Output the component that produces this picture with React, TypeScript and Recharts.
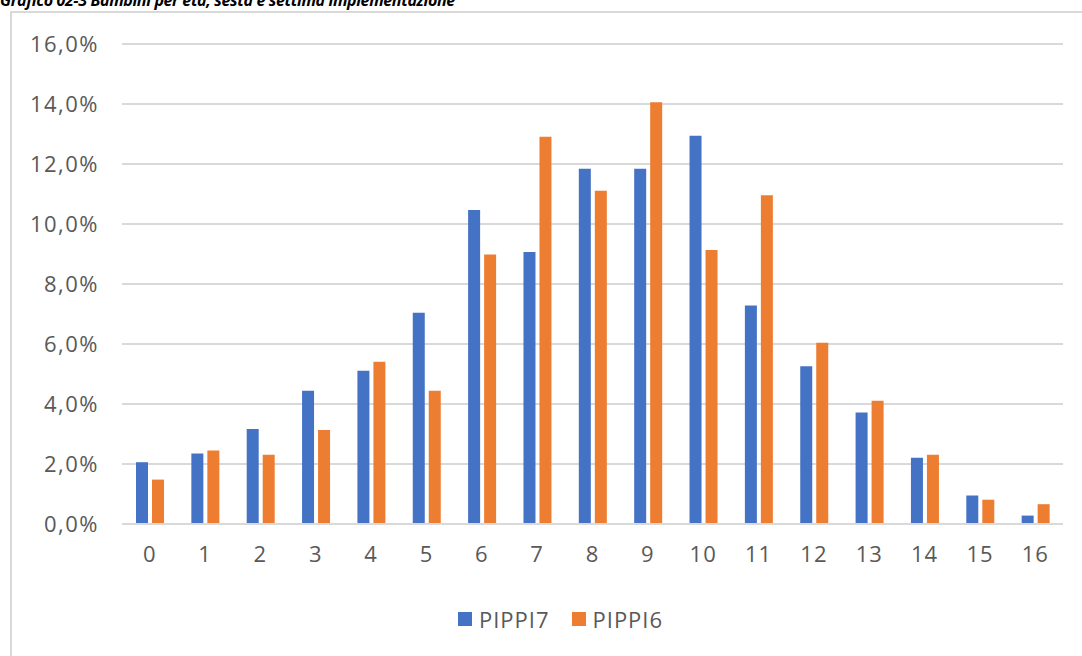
import { Bar, BarChart, CartesianGrid, Legend, XAxis, YAxis } from "recharts"

const ages = ["0", "1", "2", "3", "4", "5", "6", "7", "8", "9", "10", "11", "12", "13", "14", "15", "16"]

// share of children per age, in percent
const pippi7 = [2.06, 2.35, 3.17, 4.44, 5.11, 7.04, 10.47, 9.07, 11.84, 11.84, 12.94, 7.28, 5.26, 3.72, 2.21, 0.95, 0.28]
const pippi6 = [1.48, 2.45, 2.31, 3.13, 5.41, 4.44, 8.98, 12.91, 11.11, 14.06, 9.13, 10.96, 6.04, 4.11, 2.31, 0.81, 0.66]

const yTicks = [0, 2, 4, 6, 8, 10, 12, 14, 16]

const series = [
  { key: "PIPPI7", color: "#4472C4" },
  { key: "PIPPI6", color: "#ED7D31" },
]

const data = ages.map((age, i) => ({
  age,
  PIPPI7: pippi7[i],
  PIPPI6: pippi6[i],
}))

const font = "'Open Sans', 'Noto Sans', sans-serif"
const fmt = (v: number) => `${v.toFixed(1).replace(".", ",")}%`

function LegendRow() {
  return (
    <div
      style={{
        display: "flex",
        justifyContent: "center",
        gap: 22,
        paddingLeft: 58,
        fontSize: 22,
        letterSpacing: 1,
        color: "#595959",
      }}
    >
      {series.map((s) => (
        <div key={s.key} style={{ display: "flex", alignItems: "center", gap: 7 }}>
          <span style={{ width: 14, height: 14, background: s.color, display: "inline-block" }} />
          <span>{s.key}</span>
        </div>
      ))}
    </div>
  )
}

export default function App() {
  return (
    <div
      style={{
        position: "absolute",
        left: 0,
        top: 0,
        width: 1082,
        height: 656,
        background: "#fff",
        overflow: "hidden",
        fontFamily: font,
      }}
    >
      <div
        style={{
          position: "absolute",
          left: 0,
          top: -11,
          fontSize: 16,
          letterSpacing: -0.35,
          fontWeight: 700,
          fontStyle: "italic",
          color: "#000",
          whiteSpace: "nowrap",
        }}
      >
        Grafico 02-3 Bambini per età, sesta e settima implementazione
      </div>
      <div
        style={{
          position: "absolute",
          left: 10,
          top: 11,
          width: 1100,
          height: 700,
          borderLeft: "2px solid #d9d9d9",
          borderTop: "2px solid #d9d9d9",
        }}
      />
      <div style={{ position: "absolute", left: 0, top: 0 }}>
        <BarChart
          width={1082}
          height={656}
          data={data}
          margin={{ top: 44, right: 19, bottom: 52, left: 0 }}
          barSize={12}
          barGap={4}
        >
          <CartesianGrid vertical={false} stroke="#d9d9d9" strokeWidth={2} />
          <XAxis
            dataKey="age"
            axisLine={{ stroke: "#d9d9d9", strokeWidth: 2 }}
            tickLine={false}
            tickMargin={16}
            height={50}
            tick={{ fill: "#595959", fontSize: 22, fontFamily: font, letterSpacing: 1 }}
          />
          <YAxis
            width={122}
            domain={[0, 16]}
            ticks={yTicks}
            axisLine={false}
            tickLine={false}
            tickMargin={17}
            tickFormatter={fmt}
            tick={{ fill: "#595959", fontSize: 22, fontFamily: font, letterSpacing: 1.5 }}
          />
          <Legend
            verticalAlign="bottom"
            content={() => <LegendRow />}
            wrapperStyle={{ top: 604, bottom: "auto", height: 30 }}
          />
          {series.map((s) => (
            <Bar key={s.key} dataKey={s.key} fill={s.color} isAnimationActive={false} />
          ))}
        </BarChart>
      </div>
    </div>
  )
}
